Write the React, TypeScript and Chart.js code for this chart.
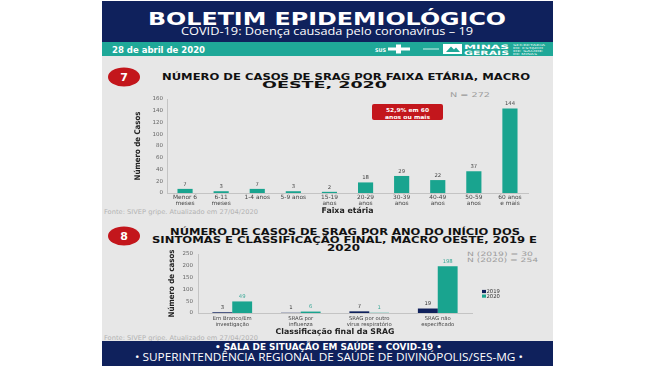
import React, { useEffect, useRef } from "react";
import { Chart, registerables } from "chart.js";

Chart.register(...registerables);

// ---------- data ----------
const ageGroups: (string | string[])[] = [
  ["Menor 6", "meses"],
  ["6-11", "meses"],
  "1-4 anos",
  "5-9 anos",
  ["15-19", "anos"],
  ["20-29", "anos"],
  ["30-39", "anos"],
  ["40-49", "anos"],
  ["50-59", "anos"],
  ["60 anos", "e mais"],
];
const ageCases = [7, 3, 7, 3, 2, 18, 29, 22, 37, 144];
const ageAxisMax = 160;
const ageAxisStep = 20;

const classGroups: string[][] = [
  ["Em Branco/Em", "investigação"],
  ["SRAG por", "influenza"],
  ["SRAG por outro", "vírus respiratório"],
  ["SRAG não", "especificado"],
];
const yearLabels = ["2019", "2020"];
const cases2019 = [3, 1, 7, 19];
const cases2020 = [49, 6, 1, 198];
const classAxisMax = 250;
const classAxisStep = 50;

// ---------- styles ----------
const TEAL = "#19a48f";
const NAVY = "#0f215c";
const BAND = "#1fa898";
const RED = "#c3161c";
const TICK_FONT = "'DejaVu Sans', sans-serif";
const NARROW = "'Liberation Sans Narrow', 'DejaVu Sans Condensed', sans-serif";
const HEAVY = "'DejaVu Sans', sans-serif";

const valueLabelsPlugin = {
  id: "valueLabels",
  afterDatasetsDraw(chart: any, _args: any, opts: any) {
    const { ctx } = chart;
    ctx.save();
    ctx.font = `${opts.size}px ${opts.family}`;
    ctx.textAlign = "center";
    ctx.textBaseline = "bottom";
    chart.data.datasets.forEach((ds: any, i: number) => {
      const meta = chart.getDatasetMeta(i);
      ctx.fillStyle = ds.valueColor || "#444";
      meta.data.forEach((el: any, j: number) => {
        ctx.fillText(String(ds.data[j]), el.x, el.y - opts.offset);
      });
    });
    ctx.restore();
  },
};

const sideLegendPlugin = {
  id: "sideLegend",
  afterDraw(chart: any, _args: any, opts: any) {
    const { ctx, chartArea } = chart;
    ctx.save();
    ctx.font = `${opts.size}px ${opts.family}`;
    ctx.textBaseline = "middle";
    ctx.textAlign = "left";
    chart.data.datasets.forEach((ds: any, i: number) => {
      const x = chartArea.right + opts.dx;
      const y = chartArea.top + opts.dy + i * opts.gap;
      ctx.fillStyle = ds.backgroundColor;
      ctx.fillRect(x, y - 1.6, opts.box, 3.2);
      ctx.fillStyle = opts.color;
      ctx.fillText(ds.label, x + opts.box + 0.5, y + 0.3);
    });
    ctx.restore();
  },
};

function AgeChart() {
  const ref = useRef<HTMLCanvasElement | null>(null);
  useEffect(() => {
    if (!ref.current) return;
    const chart = new Chart(ref.current, {
      type: "bar",
      data: {
        labels: ageGroups as any,
        datasets: [
          {
            label: "Casos",
            data: ageCases,
            backgroundColor: TEAL,
            barPercentage: 0.42,
            categoryPercentage: 1,
            valueColor: "#444",
          } as any,
        ],
      },
      options: {
        animation: false,
        responsive: false,
        devicePixelRatio: 1,
        layout: { padding: { left: 0, right: 7, top: 9, bottom: 0 } },
        plugins: {
          legend: { display: false },
          tooltip: { enabled: false },
          valueLabels: { size: 5.3, family: TICK_FONT, offset: 2 },
        } as any,
        scales: {
          x: {
            grid: { display: false, drawTicks: false },
            border: { display: true, color: "#c4c4c4" },
            ticks: {
              font: { family: TICK_FONT, size: 5.9, lineHeight: 1.05 },
              color: "#444",
              padding: 1.5,
              maxRotation: 0,
              autoSkip: false,
            },
            title: {
              display: true,
              text: "Faixa etária",
              font: { family: HEAVY, size: 7.8, weight: "bold" },
              color: "#222",
              padding: { top: 0, bottom: 3.5 },
            },
            afterFit(s: any) {
              s.height = 26;
            },
          },
          y: {
            min: 0,
            max: ageAxisMax,
            grid: { display: false, drawTicks: false },
            border: { display: true, color: "#c4c4c4" },
            ticks: {
              stepSize: ageAxisStep,
              font: { family: TICK_FONT, size: 5.5 },
              color: "#666",
              padding: 4,
            },
            title: {
              display: true,
              text: "Número de Casos",
              font: { family: NARROW, size: 7.8, weight: "bold" },
              color: "#222",
              padding: { top: 13, bottom: 0 },
            },
            afterFit(s: any) {
              s.width = 47;
            },
          },
        },
      } as any,
      plugins: [valueLabelsPlugin as any],
    });
    return () => chart.destroy();
  }, []);
  return (
    <canvas
      ref={ref}
      width={415}
      height={129}
      style={{ position: "absolute", left: 120, top: 90, width: 415, height: 129 }}
    />
  );
}

function ClassChart() {
  const ref = useRef<HTMLCanvasElement | null>(null);
  useEffect(() => {
    if (!ref.current) return;
    const chart = new Chart(ref.current, {
      type: "bar",
      data: {
        labels: classGroups as any,
        datasets: [
          {
            label: yearLabels[0],
            data: cases2019,
            backgroundColor: NAVY,
            barPercentage: 1,
            categoryPercentage: 0.58,
            valueColor: "#333",
          } as any,
          {
            label: yearLabels[1],
            data: cases2020,
            backgroundColor: TEAL,
            barPercentage: 1,
            categoryPercentage: 0.58,
            valueColor: "#3aa897",
          } as any,
        ],
      },
      options: {
        animation: false,
        responsive: false,
        devicePixelRatio: 1,
        layout: { padding: { left: 0, right: 68, top: 10, bottom: 0 } },
        plugins: {
          legend: { display: false },
          tooltip: { enabled: false },
          valueLabels: { size: 5.3, family: TICK_FONT, offset: 2 },
          sideLegend: { size: 5.3, family: TICK_FONT, dx: 10, dy: 37.5, gap: 4.6, box: 4, color: "#333" },
        } as any,
        scales: {
          x: {
            grid: { display: false, drawTicks: false },
            border: { display: true, color: "#c4c4c4" },
            ticks: {
              font: { family: TICK_FONT, size: 5.3, lineHeight: 1.1 },
              color: "#444",
              padding: 2.5,
              maxRotation: 0,
              autoSkip: false,
            },
            title: {
              display: true,
              text: "Classificação final da SRAG",
              font: { family: HEAVY, size: 7.8, weight: "bold" },
              color: "#222",
              padding: { top: 0, bottom: 3.5 },
            },
            afterFit(s: any) {
              s.height = 27;
            },
          },
          y: {
            min: 0,
            max: classAxisMax,
            grid: { display: false, drawTicks: false },
            border: { display: true, color: "#c4c4c4" },
            ticks: {
              stepSize: classAxisStep,
              font: { family: TICK_FONT, size: 5.5 },
              color: "#666",
              padding: 5,
            },
            title: {
              display: true,
              text: "Número de casos",
              font: { family: NARROW, size: 7.8, weight: "bold" },
              color: "#222",
              padding: { top: 17, bottom: 0 },
            },
            afterFit(s: any) {
              s.width = 48;
            },
          },
        },
      } as any,
      plugins: [valueLabelsPlugin as any, sideLegendPlugin as any],
    });
    return () => chart.destroy();
  }, []);
  return (
    <canvas
      ref={ref}
      width={390}
      height={96}
      style={{ position: "absolute", left: 150, top: 244, width: 390, height: 96 }}
    />
  );
}

type TP = {
  x: number;
  y: number;
  len?: number;
  size: number;
  weight?: number | string;
  fill?: string;
  family?: string;
  anchor?: "start" | "middle" | "end";
  children: React.ReactNode;
};
function T({ x, y, len, size, weight = 400, fill = "#fff", family = HEAVY, anchor = "start", children }: TP) {
  return (
    <text
      x={x}
      y={y}
      fontSize={size}
      fontWeight={weight}
      fill={fill}
      fontFamily={family}
      textAnchor={anchor}
      {...(len ? { textLength: len, lengthAdjust: "spacingAndGlyphs" } : {})}
    >
      {children}
    </text>
  );
}

export default function App() {
  return (
    <div
      style={{
        position: "absolute",
        left: 0,
        top: 0,
        width: 651,
        height: 366,
        overflow: "hidden",
        background: "#ffffff",
      }}
    >
      <svg width={651} height={366} style={{ position: "absolute", left: 0, top: 0 }}>
        {/* header */}
        <rect x={102} y={1} width={451} height={41} fill={NAVY} />
        <T x={148} y={25} len={358} size={18} weight={900}>
          BOLETIM EPIDEMIOLÓGICO
        </T>
        <T x={181} y={34.5} len={292} size={10} family="'Open Sans', sans-serif">
          COVID-19: Doença causada pelo coronavírus – 19
        </T>
        {/* teal band */}
        <rect x={102} y={42} width={451} height={14} fill={BAND} />
        <T x={112} y={52.5} len={93} size={8} weight={700}>
          28 de abril de 2020
        </T>
        <T x={375} y={51.5} len={11} size={5} weight={700}>
          SUS
        </T>
        <rect x={388} y={47.5} width={22} height={3} fill="#fff" />
        <rect x={396} y={44.5} width={5} height={9} fill="#fff" />
        <rect x={423} y={48.5} width={16} height={1} fill="#ffffff" opacity={0.8} />
        <rect x={443} y={44} width={19} height={10} fill="#fff" />
        <polygon points="446,52 451,46.5 454,49.5 456,47.5 460,52" fill={BAND} />
        <T x={464} y={48.8} len={45} size={6} weight={900}>
          MINAS
        </T>
        <T x={464} y={54.6} len={45} size={6} weight={900}>
          GERAIS
        </T>
        <T x={513} y={46} len={32} size={2.6} fill="#e8f6f3">
          SECRETARIA
        </T>
        <T x={513} y={49} len={30} size={2.6} fill="#e8f6f3">
          DE ESTADO
        </T>
        <T x={513} y={52} len={30} size={2.6} fill="#e8f6f3">
          DE SAÚDE
        </T>
        <T x={513} y={55} len={24} size={2.6} fill="#e8f6f3">
          DE MINAS
        </T>

        {/* body */}
        <rect x={102} y={56} width={451} height={286} fill="#e7e7e7" />

        {/* section 7 */}
        <ellipse cx={124} cy={77} rx={16} ry={9.5} fill={RED} />
        <T x={124} y={81} size={11} weight={900} anchor="middle">
          7
        </T>
        <T x={162} y={79.5} len={368} size={8.6} weight={900} fill="#111">
          NÚMERO DE CASOS DE SRAG POR FAIXA ETÁRIA, MACRO
        </T>
        <T x={262} y={87.5} len={125} size={8.6} weight={900} fill="#111">
          OESTE, 2020
        </T>
        <T x={450} y={97} len={40} size={6.5} fill="#9c9c9c">
          N = 272
        </T>
        <rect x={372} y={104} width={71} height={16} rx={2} fill={RED} />
        <T x={407.5} y={111.5} len={43} size={5.5} weight={700} anchor="middle">
          52,9% em 60
        </T>
        <T x={407.5} y={118.5} len={45} size={5.5} weight={700} anchor="middle">
          anos ou mais
        </T>
        <T x={104} y={214} len={154} size={6.5} fill="#b3b3b3">
          Fonte: SIVEP gripe. Atualizado em 27/04/2020
        </T>

        {/* section 8 */}
        <ellipse cx={124} cy={236} rx={16} ry={9.5} fill={RED} />
        <T x={124} y={240} size={11} weight={900} anchor="middle">
          8
        </T>
        <T x={170} y={234.5} len={350} size={8.2} weight={900} fill="#111">
          NÚMERO DE CASOS DE SRAG POR ANO DO INÍCIO DOS
        </T>
        <T x={152} y={243} len={385} size={8.2} weight={900} fill="#111">
          SINTOMAS E CLASSIFICAÇÃO FINAL, MACRO OESTE, 2019 E
        </T>
        <T x={327} y={250.5} len={33} size={8.2} weight={900} fill="#111">
          2020
        </T>
        <T x={467} y={256} len={66} size={6} fill="#9c9c9c">
          N (2019) = 30
        </T>
        <T x={467} y={261.5} len={71} size={6} fill="#9c9c9c">
          N (2020) = 254
        </T>
        <T x={104} y={340} len={154} size={6.5} fill="#b3b3b3">
          Fonte: SIVEP gripe. Atualizado em 27/04/2020
        </T>

        {/* footer */}
        <rect x={102} y={341} width={451} height={25} fill={NAVY} />
        <T x={328.5} y={350.3} len={227} size={8.7} weight={900} anchor="middle">
          • SALA DE SITUAÇÃO EM SAÚDE • COVID-19 •
        </T>
        <T x={329} y={360.5} len={388} size={10} family="'Open Sans', sans-serif" anchor="middle">
          • SUPERINTENDÊNCIA REGIONAL DE SAÚDE DE DIVINÓPOLIS/SES-MG •
        </T>
      </svg>
      <AgeChart />
      <ClassChart />
    </div>
  );
}
